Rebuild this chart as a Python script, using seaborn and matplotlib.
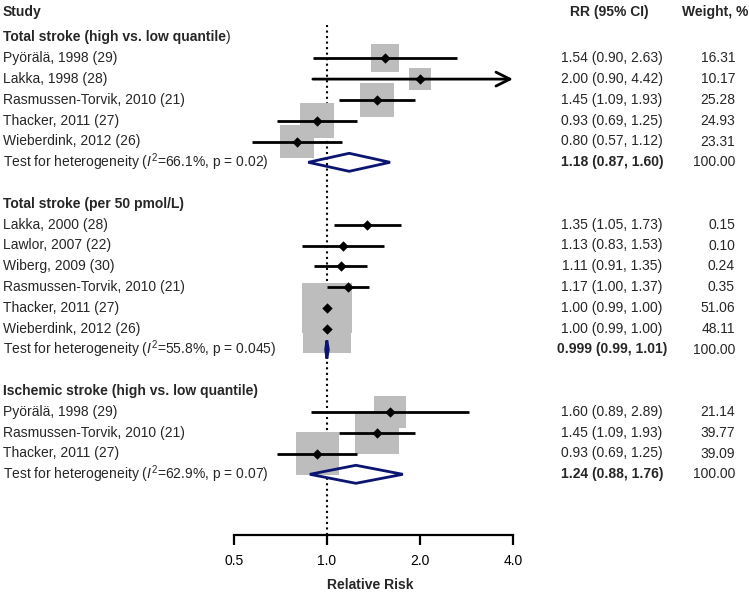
import matplotlib
matplotlib.use("Agg")
import matplotlib.pyplot as plt
import seaborn as sns
import numpy as np
import pandas as pd
from matplotlib.patches import Polygon
from matplotlib.ticker import NullLocator

# data
group_titles = ['Total stroke (high vs. low quantile',
                'Total stroke (per 50 pmol/L)',
                'Ischemic stroke (high vs. low quantile)']

g1_studies = ['Pyörälä, 1998 (29)', 'Lakka, 1998 (28)', 'Rasmussen-Torvik, 2010 (21)',
              'Thacker, 2011 (27)', 'Wieberdink, 2012 (26)']
g1_rr = [1.54, 2.00, 1.45, 0.93, 0.80]
g1_lo = [0.90, 0.90, 1.09, 0.69, 0.57]
g1_hi = [2.63, 4.42, 1.93, 1.25, 1.12]
g1_w = [16.31, 10.17, 25.28, 24.93, 23.31]

g2_studies = ['Lakka, 2000 (28)', 'Lawlor, 2007 (22)', 'Wiberg, 2009 (30)',
              'Rasmussen-Torvik, 2010 (21)', 'Thacker, 2011 (27)', 'Wieberdink, 2012 (26)']
g2_rr = [1.35, 1.13, 1.11, 1.17, 1.00, 1.00]
g2_lo = [1.05, 0.83, 0.91, 1.00, 0.99, 0.99]
g2_hi = [1.73, 1.53, 1.35, 1.37, 1.00, 1.00]
g2_w = [0.15, 0.10, 0.24, 0.35, 51.06, 48.11]

g3_studies = ['Pyörälä, 1998 (29)', 'Rasmussen-Torvik, 2010 (21)', 'Thacker, 2011 (27)']
g3_rr = [1.60, 1.45, 0.93]
g3_lo = [0.89, 1.09, 0.69]
g3_hi = [2.89, 1.93, 1.25]
g3_w = [21.14, 39.77, 39.09]

pooled_rr = [1.18, 0.999, 1.24]
pooled_lo = [0.87, 0.99, 0.88]
pooled_hi = [1.60, 1.01, 1.76]
pooled_i2 = ['66.1', '55.8', '62.9']
pooled_p = ['0.02', '0.045', '0.07']

x_ticks = [0.5, 1.0, 2.0, 4.0]
x_ticklabels = ['0.5', '1.0', '2.0', '4.0']

sns.set_theme(style="white")
plt.rcParams['font.family'] = ['Liberation Sans', 'DejaVu Sans']
plt.rcParams['mathtext.fontset'] = 'custom'
plt.rcParams['mathtext.rm'] = 'Liberation Sans'
plt.rcParams['mathtext.it'] = 'Liberation Sans:italic'

W, H = 749, 592
FS = 10
NAVY = '#0b1470'
GREY = '#bdbdbd'

def row_y(r):
    return 37.5 + 20.8 * r

# build study table with row positions
groups = [(g1_studies, g1_rr, g1_lo, g1_hi, g1_w),
          (g2_studies, g2_rr, g2_lo, g2_hi, g2_w),
          (g3_studies, g3_rr, g3_lo, g3_hi, g3_w)]
rows = []
header_rows = []
test_rows = []
r = 0
for gi, (names, rr, lo, hi, w) in enumerate(groups):
    header_rows.append(r)
    for k in range(len(names)):
        rows.append(dict(group=gi, study=names[k], rr=rr[k], lo=lo[k], hi=hi[k],
                         w=w[k], y=row_y(r + 1 + k)))
    test_rows.append(r + len(names) + 1)
    r += len(names) + 3
df = pd.DataFrame(rows)
side_pt = 6.9 * np.sqrt(df['w']) * 72 / 100
df['area'] = side_pt ** 2

fig = plt.figure(figsize=(W / 100, H / 100), dpi=100)
tx = fig.add_axes([0, 0, 1, 1])
tx.set_xlim(0, W)
tx.set_ylim(H, 0)
tx.axis('off')

ax = fig.add_axes([234 / W, (H - 535) / H, (513 - 234) / W, (535 - 22) / H])
ax.patch.set_visible(False)
ax.set_xscale('log', base=2)
ax.set_xlim(0.5, 4)
ax.set_ylim(535, 22)

ax.axvline(1, color='black', ls=':', lw=1.5, zorder=1)

# weight boxes
sns.scatterplot(data=df, x='rr', y='y', marker='s', s=df['area'].values, color=GREY,
                linewidth=0, ax=ax, zorder=2, legend=False)

# confidence intervals
xmax = ax.get_xlim()[1]
for _, d in df.iterrows():
    if d['hi'] > xmax:
        ax.annotate('', xy=(xmax, d['y']), xytext=(d['lo'], d['y']),
                    arrowprops=dict(arrowstyle='->', lw=2, color='black',
                                    mutation_scale=25, shrinkA=0, shrinkB=0),
                    zorder=3, annotation_clip=False)
    else:
        ax.hlines(d['y'], d['lo'], d['hi'], color='black', lw=2, zorder=3)

sns.scatterplot(data=df, x='rr', y='y', marker='D', s=28, color='black',
                linewidth=0, ax=ax, zorder=4, legend=False)

# pooled diamonds
for gi in range(3):
    y = row_y(test_rows[gi])
    pts = [(pooled_lo[gi], y), (pooled_rr[gi], y - 9), (pooled_hi[gi], y), (pooled_rr[gi], y + 9)]
    ax.add_patch(Polygon(pts, closed=True, fill=False, edgecolor=NAVY, lw=2, zorder=5))

ax.set_xticks(x_ticks)
ax.set_xticklabels(x_ticklabels)
ax.xaxis.set_minor_locator(NullLocator())
ax.set_yticks([])
ax.set_xlabel('')
ax.set_ylabel('')
for s in ['top', 'right', 'left']:
    ax.spines[s].set_visible(False)
ax.spines['bottom'].set_linewidth(1.6)
ax.spines['bottom'].set_color('black')
ax.tick_params(axis='x', bottom=True, direction='out', length=7, width=1.6,
               color='black', labelsize=FS, labelcolor='black', pad=7)

# text columns
tx.text(3, 12, 'Study', fontsize=FS, fontweight='bold', va='center', ha='left')
tx.text(609, 12, 'RR (95% CI)', fontsize=FS, fontweight='bold', va='center', ha='center')
tx.text(715, 12, 'Weight, %', fontsize=FS, fontweight='bold', va='center', ha='center')

for gi in range(3):
    y = row_y(header_rows[gi])
    t = tx.text(3, y, group_titles[gi], fontsize=FS, fontweight='bold', va='center', ha='left')
    if gi == 0:
        tx.annotate(')', xy=(1, 0.5), xycoords=t, fontsize=FS, va='center', ha='left')
    yt = row_y(test_rows[gi])
    tx.text(3, yt, 'Test for heterogeneity ($I^2$=' + pooled_i2[gi] + '%, p = ' + pooled_p[gi] + ')',
            fontsize=FS, va='center', ha='left')
    tx.text(612, yt, '{:.3g} ({:.2f}, {:.2f})'.format(pooled_rr[gi], pooled_lo[gi], pooled_hi[gi]),
            fontsize=FS, fontweight='bold', va='center', ha='center')
    tx.text(735, yt, '100.00', fontsize=FS, va='center', ha='right')

for _, d in df.iterrows():
    tx.text(3, d['y'], d['study'], fontsize=FS, va='center', ha='left')
    tx.text(612, d['y'], '{:.2f} ({:.2f}, {:.2f})'.format(d['rr'], d['lo'], d['hi']),
            fontsize=FS, va='center', ha='center')
    tx.text(735, d['y'], '{:.2f}'.format(d['w']), fontsize=FS, va='center', ha='right')

tx.text(370, 585, 'Relative Risk', fontsize=FS, fontweight='bold', va='center', ha='center')

fig.savefig('out.png', dpi=100)
